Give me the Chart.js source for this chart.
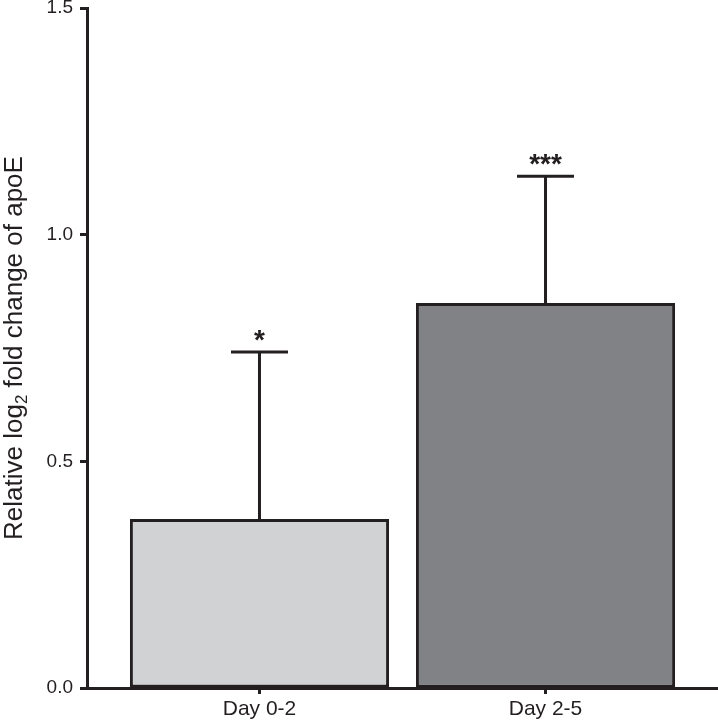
<!DOCTYPE html>
<html>
<head>
<meta charset="utf-8">
<script src="https://cdn.jsdelivr.net/npm/chart.js@4"></script>
<style>
  html, body { margin: 0; padding: 0; background: #ffffff; }
  #wrap { width: 718px; height: 720px; }
</style>
</head>
<body>
<div id="wrap"><canvas id="c" width="718" height="720"></canvas></div>
<script>
// ---- data ----
const categories = ['Day 0-2', 'Day 2-5'];
const means = [0.373, 0.849];
const errors = [0.368, 0.280];
const significance = ['*', '***'];
const yTickValues = [0.0, 0.5, 1.0, 1.5];
const yTickLabels = ['0.0', '0.5', '1.0', '1.5'];
const axisTitleParts = ['Relative log', '2', ' fold change of apoE'];

const INK = '#231f20';
const FONT = '"Liberation Sans", Arial, sans-serif';

const errorBarPlugin = {
  id: 'errorBars',
  afterDatasetsDraw(chart) {
    const ctx = chart.ctx;
    const xs = chart.scales.x, ys = chart.scales.y;
    ctx.save();
    ctx.strokeStyle = INK;
    ctx.fillStyle = INK;
    ctx.lineWidth = 3;
    ctx.lineCap = 'butt';
    means.forEach((m, i) => {
      const x = xs.getPixelForValue(i + 1);
      const y0 = ys.getPixelForValue(m);
      const y1 = ys.getPixelForValue(m + errors[i]);
      ctx.beginPath();
      ctx.moveTo(x, y0);
      ctx.lineTo(x, y1);
      ctx.moveTo(x - 28.5, y1);
      ctx.lineTo(x + 28.5, y1);
      ctx.stroke();
      ctx.font = 'bold 28px ' + FONT;
      ctx.textAlign = 'center';
      ctx.textBaseline = 'alphabetic';
      ctx.fillText(significance[i], x, y1 - 3);
    });
    ctx.restore();
  }
};

const titlePlugin = {
  id: 'yTitle',
  afterDraw(chart) {
    const ctx = chart.ctx;
    const area = chart.chartArea;
    ctx.save();
    ctx.translate(22, (area.top + area.bottom) / 2);
    ctx.rotate(-Math.PI / 2);
    ctx.fillStyle = INK;
    ctx.textBaseline = 'alphabetic';
    const big = '26px ' + FONT, small = '17px ' + FONT;
    ctx.font = big;
    const w0 = ctx.measureText(axisTitleParts[0]).width;
    const w2 = ctx.measureText(axisTitleParts[2]).width;
    ctx.font = small;
    const w1 = ctx.measureText(axisTitleParts[1]).width;
    const total = w0 + w1 + w2;
    let x = -total / 2;
    ctx.textAlign = 'left';
    ctx.font = big;
    ctx.fillText(axisTitleParts[0], x, 0);
    x += w0;
    ctx.font = small;
    ctx.fillText(axisTitleParts[1], x, 5);
    x += w1;
    ctx.font = big;
    ctx.fillText(axisTitleParts[2], x, 0);
    ctx.restore();
  }
};

new Chart(document.getElementById('c'), {
  type: 'bar',
  data: {
    datasets: [{
      data: means.map((m, i) => ({ x: i + 1, y: m })),
      backgroundColor: ['#d1d2d4', '#808285'],
      borderColor: INK,
      borderWidth: 3,
      borderSkipped: false,
      barPercentage: 0.906,
      categoryPercentage: 1.0
    }]
  },
  options: {
    responsive: false,
    animation: false,
    devicePixelRatio: 1,
    layout: { padding: { top: 8, right: 0, bottom: 0, left: 0 } },
    plugins: { legend: { display: false }, tooltip: { enabled: false } },
    scales: {
      x: {
        type: 'linear',
        offset: false,
        min: 0.397,
        max: 2.603,
        afterBuildTicks(scale) { scale.ticks = categories.map((c, i) => ({ value: i + 1 })); },
        afterFit(scale) { scale.height = 32; scale.paddingLeft = 0; scale.paddingRight = 0; },
        ticks: {
          callback: (v) => categories[Math.round(v) - 1] || '',
          font: { family: FONT, size: 21 },
          color: INK,
          padding: 3,
          maxRotation: 0,
          autoSkip: false
        },
        grid: { display: true, offset: false, drawOnChartArea: false, drawTicks: true, tickLength: 6, tickWidth: 3, tickColor: INK },
        border: { display: true, color: INK, width: 3 }
      },
      y: {
        min: 0,
        max: 1.5,
        afterBuildTicks(scale) { scale.ticks = yTickValues.map(v => ({ value: v })); },
        afterFit(scale) { scale.width = 87; scale.paddingTop = 0; scale.paddingBottom = 0; },
        ticks: {
          callback: (v) => yTickLabels[yTickValues.indexOf(v)],
          font: { family: FONT, size: 19 },
          color: INK,
          padding: 7
        },
        grid: { display: true, drawOnChartArea: false, drawTicks: true, tickLength: 7, tickWidth: 3, tickColor: INK },
        border: { display: true, color: INK, width: 3 }
      }
    }
  },
  plugins: [errorBarPlugin, titlePlugin]
});
</script>
</body>
</html>
